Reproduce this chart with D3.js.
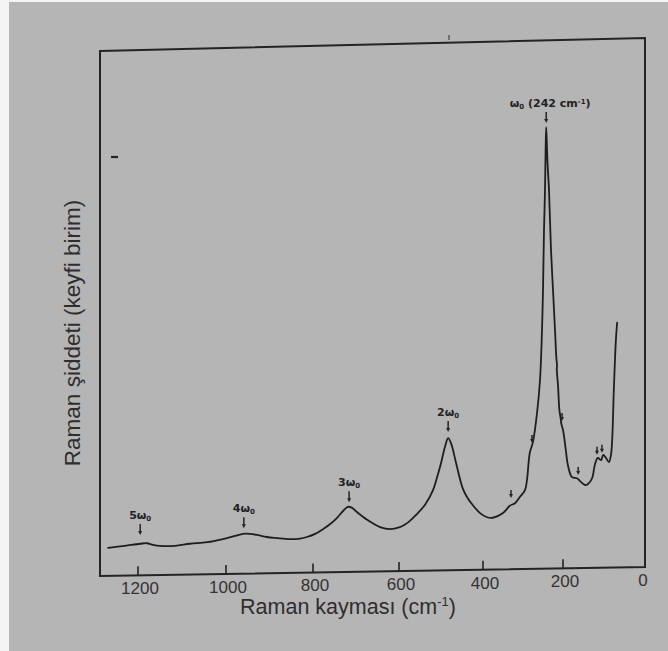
<!DOCTYPE html>
<html>
<head>
<meta charset="utf-8">
<script src="https://cdn.jsdelivr.net/npm/d3@7"></script>
<style>
  html, body { margin: 0; padding: 0; background: #b5b5b5; }
  svg { display: block; }
</style>
</head>
<body>
<svg id="chart" width="668" height="651"></svg>
<script>
// Raman spectrum: shift (cm-1) and intensity (arbitrary units)
const ramanShift = [1268, 1230, 1195, 1180, 1166, 1150, 1116, 1082, 1043, 1007,
  979, 961, 945, 929, 906, 883, 853, 830, 814, 795, 777, 760, 744, 730, 719, 709,
  698, 674, 644, 621, 598, 586, 574, 560, 538, 519, 510, 500, 490, 483, 476, 464,
  448, 436, 424, 407, 390, 375, 350, 333, 320, 308, 295, 290, 283, 275, 265, 257.5,
  252.5, 250, 247.5, 245, 243.5, 242, 239, 235, 230, 225, 220, 216.5, 215, 215.5,
  212.5, 209, 206, 204, 200, 194, 188, 178, 166, 159, 146, 139, 129, 122, 115, 107,
  102, 95, 88, 83, 80, 76, 71, 68];
const intensity = [5.4, 5.8, 6.2, 6.3, 6.0, 5.8, 5.8, 6.2, 6.5, 7.1,
  7.7, 8.1, 8.1, 7.9, 7.5, 7.3, 7.1, 7.2, 7.5, 8.1, 9.0, 10.0, 11.2, 12.5, 13.3, 13.1,
  12.3, 10.8, 9.4, 9.0, 9.4, 9.9, 10.6, 11.7, 13.7, 16.5, 18.8, 21.7, 25.0, 26.5, 25.5, 21.7,
  16.8, 14.9, 13.6, 12.1, 11.3, 11.2, 12.1, 13.5, 14.0, 15.2, 16.5, 18.5, 23.7, 25.8, 31.3, 37.7,
  47.3, 55.0, 66.5, 74.2, 81.9, 86.3, 80.0, 74.2, 62.7, 55.0, 47.3, 41.8, 40.6, 39.6,
  36.7, 31.9, 30.4, 29.2, 28.1, 24.8, 21.3, 19.0, 18.8, 18.3, 17.5, 17.7, 18.8, 21.5, 22.7, 22.3,
  23.3, 22.7, 21.9, 23.3, 26.2, 35.8, 45.4, 48.7];

// Axis ticks
const tickValues = [1200, 1000, 800, 600, 400, 200, 0];
const tickLabels = ["1200", "1000", "800", "600", "400", "200", "0"];

// Fundamental and overtone markers
const peakOrder = ["5", "4", "3", "2", ""];
const peakShift = [1195, 959, 716, 483, 242];
const peakTip = [7.9, 9.2, 14.2, 27.7, 87.1];

// Small arrows at shoulders
const shoulderShift = [330, 277.5, 202.5, 163, 117, 105];
const shoulderTip = [15.0, 25.6, 29.8, 19.4, 23.3, 23.7];

const xTitle = "Raman kayması (cm";
const yTitle = "Raman şiddeti (keyfi birim)";

const svg = d3.select("#chart");
const W = 668, H = 651;
const ink = "#242424";

// paper
svg.append("rect").attr("width", W).attr("height", H).attr("fill", "#b5b5b5");
svg.append("rect").attr("width", 9).attr("height", H).attr("fill", "#f4f4f4");
svg.append("rect").attr("width", W).attr("height", 2).attr("fill", "#f4f4f4");

// scales (the printed axis is slightly uneven, so the x scale is piecewise)
const x = d3.scaleLinear()
  .domain(tickValues)
  .range([138, 226, 313, 399, 483, 563, 645]);
const y = d3.scaleLinear().domain([0, 100]).range([576, 56]);

const left = 100, right = x(0);
const bottomY = px => 576 - (px - left) * 9 / (right - left);
const topY = px => 51 - (px - left) * 13 / (right - left);

// frame
svg.append("path")
  .attr("d", `M${left},${topY(left)}L${right},${topY(right)}L${right},${bottomY(right)}L${left},${bottomY(left)}Z`)
  .attr("fill", "none").attr("stroke", ink).attr("stroke-width", 2)
  .attr("stroke-linejoin", "miter");

// small stray marks on the frame
svg.append("line").attr("x1", 111).attr("x2", 118).attr("y1", 157).attr("y2", 157)
  .attr("stroke", ink).attr("stroke-width", 2.2);
svg.append("line").attr("x1", 449).attr("x2", 449).attr("y1", 35).attr("y2", 40)
  .attr("stroke", "#444").attr("stroke-width", 1.2);

// ticks
const ticks = svg.append("g");
tickValues.forEach((v, i) => {
  const px = x(v);
  if (v !== 0) {
    ticks.append("line")
      .attr("x1", px).attr("x2", px)
      .attr("y1", bottomY(px)).attr("y2", bottomY(px) - 9)
      .attr("stroke", ink).attr("stroke-width", 1.6);
  }
  ticks.append("text")
    .attr("x", px + (v === 0 ? -2 : 2)).attr("y", bottomY(px) + 19)
    .attr("text-anchor", "middle")
    .attr("font-family", "Liberation Sans, Arial, sans-serif")
    .attr("font-size", 17)
    .attr("fill", "#333")
    .text(tickLabels[i]);
});

// axis titles
const xt = svg.append("text")
  .attr("x", 348).attr("y", 614)
  .attr("text-anchor", "middle")
  .attr("font-family", "Liberation Sans, Arial, sans-serif")
  .attr("font-size", 21.5)
  .attr("fill", "#2e2e2e");
xt.append("tspan").text(xTitle);
xt.append("tspan").attr("dy", -8).attr("font-size", 13).text("-1");
xt.append("tspan").attr("dy", 8).text(")");

svg.append("text")
  .attr("transform", "translate(80,333) rotate(-90)")
  .attr("text-anchor", "middle")
  .attr("font-family", "Liberation Sans, Arial, sans-serif")
  .attr("font-size", 22.5)
  .attr("fill", "#2e2e2e")
  .text(yTitle);

// spectrum
const pts = ramanShift.map((s, i) => [s, intensity[i]]);
const line = d3.line()
  .x(d => x(d[0])).y(d => y(d[1]))
  .curve(d3.curveCatmullRom.alpha(0.5));
svg.append("path")
  .attr("d", line(pts))
  .attr("fill", "none")
  .attr("stroke", "#1e1e1e")
  .attr("stroke-width", 1.8)
  .attr("stroke-linejoin", "round")
  .attr("stroke-linecap", "round");

// arrow helper
function arrow(px, tipY, len) {
  svg.append("line")
    .attr("x1", px).attr("x2", px)
    .attr("y1", tipY - len).attr("y2", tipY - 2)
    .attr("stroke", ink).attr("stroke-width", 1.5);
  svg.append("path")
    .attr("d", `M${px - 2},${tipY - 4}L${px + 2},${tipY - 4}L${px},${tipY}Z`)
    .attr("fill", ink);
}

// overtone labels
peakShift.forEach((s, i) => {
  const px = x(s), ty = y(peakTip[i]);
  arrow(px, ty, 11);
  const t = svg.append("text")
    .attr("x", i === 4 ? px + 4 : px)
    .attr("y", ty - 16)
    .attr("text-anchor", "middle")
    .attr("font-family", "DejaVu Sans, sans-serif")
    .attr("font-size", 11)
    .attr("font-weight", 600)
    .attr("fill", "#222");
  t.append("tspan").text(peakOrder[i] + "ω");
  t.append("tspan").attr("dy", 2).attr("font-size", 7).text("0");
  if (i === 4) {
    t.append("tspan").attr("dy", -2).text(` (${s} cm`);
    t.append("tspan").attr("dy", -3).attr("font-size", 7).text("-1");
    t.append("tspan").attr("dy", 3).text(")");
  }
});

// shoulder arrows
shoulderShift.forEach((s, i) => {
  arrow(x(s), y(shoulderTip[i]), 8);
});
</script>
</body>
</html>
